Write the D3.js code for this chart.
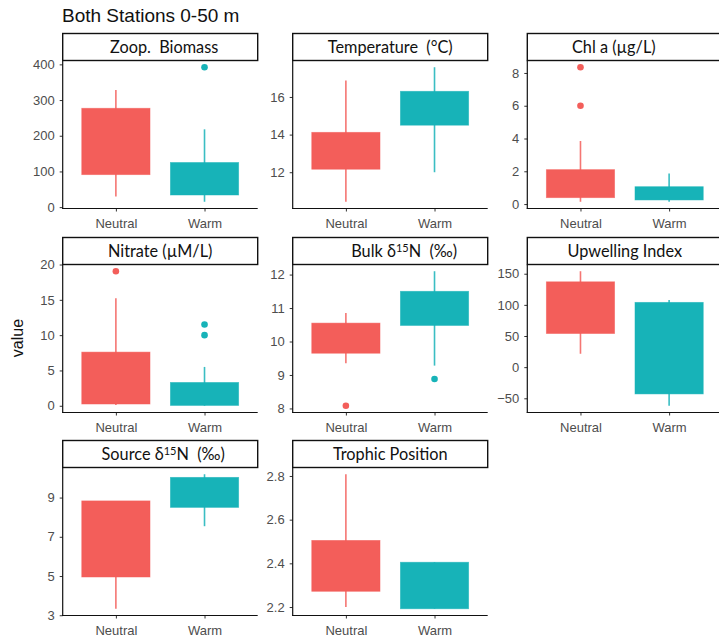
<!DOCTYPE html>
<html><head><meta charset="utf-8">
<script src="https://cdn.jsdelivr.net/npm/d3@7"></script>
<style>
html,body{margin:0;padding:0;background:#fff;}
svg{display:block;}
</style></head>
<body>
<svg id="chart" width="719" height="640"></svg>
<script>
// ---- data ----
const categories = ["Neutral", "Warm"];
const panelNames = ["Zoop.\u00A0 Biomass", "Temperature\u00A0 (°C)", "Chl a (µg/L)", "Nitrate (µM/L)", "Bulk δ15N\u00A0 (‰)", "Upwelling Index", "Source δ15N\u00A0 (‰)", "Trophic Position"];
// box stats: [lower whisker, q1, q3, upper whisker]
const neutralStats = [
  [30, 91, 277, 328],
  [10.43, 12.16, 14.12, 16.87],
  [0.14, 0.39, 2.1, 3.85],
  [0.1, 0.25, 7.6, 15.24],
  [9.35, 9.65, 10.55, 10.85],
  [21.5, 54, 137, 154],
  [3.33, 4.95, 8.83, 8.83],
  [2.2, 2.272, 2.505, 2.808]
];
const warmStats = [
  [15, 34, 125, 218],
  [12.0, 14.5, 16.3, 17.58],
  [0.14, 0.25, 1.06, 1.86],
  [0.0, 0.05, 3.3, 5.5],
  [9.28, 10.48, 11.5, 12.1],
  [-62, -43, 104, 108],
  [7.54, 8.5, 10.03, 10.19],
  [2.192, 2.192, 2.405, 2.405]
];
const neutralOutliers = [[], [], [8.35, 6.0], [19.05], [8.08], [], [], []];
const warmOutliers = [[392], [], [], [11.5, 10.0], [8.88], [], [], []];
const yTicks = [
  [0, 100, 200, 300, 400],
  [12, 14, 16],
  [0, 2, 4, 6, 8],
  [0, 5, 10, 15, 20],
  [8, 9, 10, 11, 12],
  [-50, 0, 50, 100, 150],
  [3, 5, 7, 9],
  [2.2, 2.4, 2.6, 2.8]
];
const yTickFormat = ["d", "d", "d", "d", "d", "d", "d", ".1f"];
const stripDx = [4, 0, -11, 0, 14, 0, 3, 0];

// ---- layout ----
const colors = {Neutral: "#F35E5A", Warm: "#17B3B8"};
const colLeft = [62.7, 292.7, 527.3];
const stripTop = [33.5, 237.5, 440.5];
const panelW = 195, stripH = 27, plotH = 148;
const axisFont = "'Liberation Sans', Arial, sans-serif";
const stripFont = "Lato, 'Open Sans', sans-serif";

const svg = d3.select("#chart");

svg.append("text").attr("x", 62).attr("y", 21.5)
  .attr("font-family", axisFont).attr("font-size", 19).attr("fill", "#111")
  .text("Both Stations 0-50 m");

svg.append("text").attr("transform", "translate(23,338) rotate(-90)")
  .attr("text-anchor", "middle").attr("font-family", axisFont)
  .attr("font-size", 16).attr("fill", "#111").text("value");

panelNames.forEach((name, i) => {
  const col = i % 3, row = Math.floor(i / 3);
  const x0 = colLeft[col], y0 = stripTop[row];
  const g = svg.append("g").attr("transform", `translate(${x0},${y0})`);

  // data range with 5% expansion
  const all = [...neutralStats[i], ...warmStats[i], ...neutralOutliers[i], ...warmOutliers[i]];
  const [mn, mx] = d3.extent(all);
  const pad = (mx - mn) * 0.05;
  const y = d3.scaleLinear().domain([mn - pad, mx + pad]).range([stripH + plotH, stripH]);
  const x = d3.scaleLinear().domain([0.4, 2.6]).range([0, panelW]);
  const bw = x(1.77) - x(1);

  const groups = [
    {cat: "Neutral", pos: 1, s: neutralStats[i], out: neutralOutliers[i]},
    {cat: "Warm", pos: 2, s: warmStats[i], out: warmOutliers[i]}
  ];
  groups.forEach(d => {
    const cx = x(d.pos), c = colors[d.cat];
    g.append("line").attr("x1", cx).attr("x2", cx)
      .attr("y1", y(d.s[0])).attr("y2", y(d.s[3]))
      .attr("stroke", c).attr("stroke-width", 1.6).attr("stroke-opacity", 0.85);
    g.append("rect").attr("x", cx - bw / 2).attr("width", bw)
      .attr("y", y(d.s[2])).attr("height", y(d.s[1]) - y(d.s[2]))
      .attr("fill", c).attr("stroke", c).attr("stroke-opacity", 0.6).attr("stroke-width", 0.8);
    d.out.forEach(v => {
      g.append("circle").attr("cx", cx).attr("cy", y(v)).attr("r", 3.3).attr("fill", c);
    });
  });

  // axes
  const yAxis = d3.axisLeft(y).tickValues(yTicks[i]).tickSize(3).tickPadding(5)
    .tickFormat(d3.format(yTickFormat[i]));
  const ya = g.append("g").call(yAxis);
  const xAxis = d3.axisBottom(x).tickValues([1, 2]).tickSize(3).tickPadding(7)
    .tickFormat(d => categories[d - 1]);
  const xa = g.append("g").attr("transform", `translate(0,${stripH + plotH})`).call(xAxis);
  [ya, xa].forEach(a => {
    a.attr("font-family", axisFont).attr("font-size", 13);
    a.select(".domain").remove();
    a.selectAll(".tick line").attr("stroke", "#333").attr("stroke-width", 1);
    a.selectAll(".tick text").attr("font-family", axisFont).attr("font-size", 13).attr("fill", "#4d4d4d");
  });
  g.append("line").attr("x1", 0).attr("x2", 0).attr("y1", stripH).attr("y2", stripH + plotH + 0.5)
    .attr("stroke", "#111").attr("stroke-width", 1.2);
  g.append("line").attr("x1", -0.5).attr("x2", panelW).attr("y1", stripH + plotH).attr("y2", stripH + plotH)
    .attr("stroke", "#111").attr("stroke-width", 1.2);

  // strip
  g.append("rect").attr("x", 0).attr("y", 0).attr("width", panelW).attr("height", stripH)
    .attr("fill", "#fff").attr("stroke", "#111").attr("stroke-width", 1.4);
  const t = g.append("text").attr("x", panelW / 2 + stripDx[i]).attr("y", stripH / 2 + 6)
    .attr("text-anchor", "middle").attr("font-family", stripFont).attr("font-size", 16.3).attr("fill", "#111");
  const m = name.match(/^(.*δ)(15)(N.*)$/);
  if (m) {
    t.append("tspan").text(m[1]);
    t.append("tspan").attr("font-size", 11).attr("dy", -5).text(m[2]);
    t.append("tspan").attr("dy", 5).text(m[3]);
  } else {
    t.text(name);
  }
});
</script>
</body></html>
